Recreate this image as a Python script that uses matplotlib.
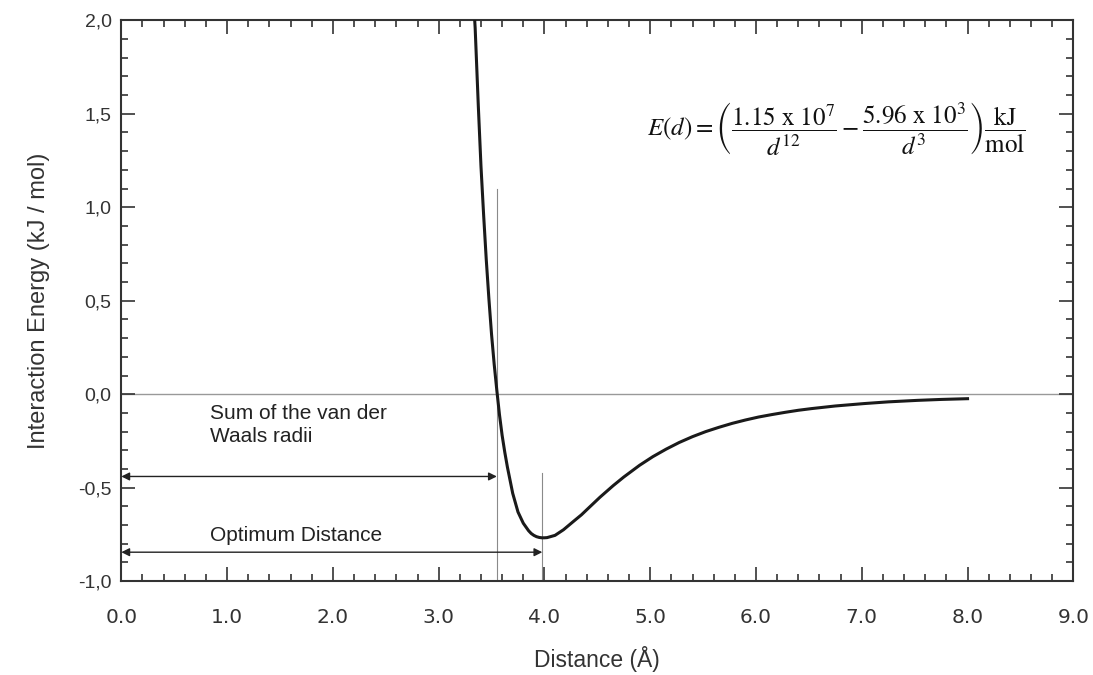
import matplotlib
matplotlib.use('Agg')
import matplotlib.pyplot as plt
from matplotlib.ticker import MultipleLocator, FuncFormatter

plt.rcParams['mathtext.fontset'] = 'stix'

# curve (distance in A, energy in kJ/mol)
distance = [3.33, 3.345, 3.375, 3.40, 3.425, 3.45, 3.475, 3.50, 3.525, 3.55,
            3.575, 3.60, 3.625, 3.65, 3.675, 3.70, 3.725, 3.75, 3.775, 3.80,
            3.825, 3.85, 3.875, 3.90, 3.925, 3.95, 3.975, 4.00, 4.025, 4.10,
            4.18, 4.275, 4.35, 4.40, 4.525, 4.65, 4.75, 4.90, 5.025, 5.15,
            5.275, 5.40, 5.525, 5.65, 5.775, 5.90, 6.025, 6.15, 6.275, 6.40,
            6.525, 6.75, 7.025, 7.25, 7.525, 7.75, 8.0]
energy = [2.10, 1.96, 1.54, 1.22, 0.96, 0.72, 0.51, 0.32, 0.16, 0.02,
          -0.11, -0.22, -0.31, -0.39, -0.46, -0.53, -0.58, -0.63, -0.66, -0.69,
          -0.71, -0.73, -0.745, -0.755, -0.762, -0.766, -0.768, -0.768, -0.767, -0.755,
          -0.725, -0.68, -0.645, -0.618, -0.551, -0.489, -0.443, -0.380, -0.334, -0.294,
          -0.258, -0.227, -0.200, -0.177, -0.156, -0.138, -0.122, -0.109, -0.097, -0.086,
          -0.077, -0.063, -0.050, -0.041, -0.033, -0.028, -0.024]

vdw_sum = 3.55
optimum = 3.98

fig = plt.figure(figsize=(10.93, 6.75), dpi=100)
ax = fig.add_axes([0.111, 0.139, 0.871, 0.831])

ax.axhline(0, color='#999999', lw=1.0, zorder=1)
ax.plot([vdw_sum, vdw_sum], [-1.0, 1.1], color='#8a8a8a', lw=0.8, zorder=1)
ax.plot([optimum, optimum], [-1.0, -0.42], color='#8a8a8a', lw=0.8, zorder=1)
ax.plot(distance, energy, color='#1a1a1a', lw=2.2, zorder=3, clip_on=True,
        solid_joinstyle='round')

arr = dict(arrowstyle='<|-|>', color='#222222', lw=1.0, mutation_scale=12,
           shrinkA=0, shrinkB=0)
ax.annotate('', xy=(0, -0.44), xytext=(vdw_sum, -0.44), arrowprops=arr)
ax.annotate('', xy=(0, -0.845), xytext=(optimum, -0.845), arrowprops=arr)

ax.text(0.84, -0.165, 'Sum of the van der\nWaals radii', family='Liberation Sans',
        fontsize=15, color='#222222', va='center', ha='left', linespacing=1.25)
ax.text(0.84, -0.755, 'Optimum Distance', family='Liberation Sans',
        fontsize=15, color='#222222', va='center', ha='left')

eq = (r'$E(d) = \left(\dfrac{1.15\ \mathrm{x}\ 10^{7}}{d^{12}}'
      r' - \dfrac{5.96\ \mathrm{x}\ 10^{3}}{d^{3}}\right)\dfrac{\mathrm{kJ}}{\mathrm{mol}}$')
ax.text(4.97, 1.42, eq, fontsize=18, color='#111111', va='center', ha='left')

ax.set_xlim(0, 9)
ax.set_ylim(-1, 2)
ax.xaxis.set_major_locator(MultipleLocator(1))
ax.xaxis.set_minor_locator(MultipleLocator(0.2))
ax.yaxis.set_major_locator(MultipleLocator(0.5))
ax.yaxis.set_minor_locator(MultipleLocator(0.1))
ax.xaxis.set_major_formatter(FuncFormatter(lambda v, p: '%.1f' % v))
ax.yaxis.set_major_formatter(FuncFormatter(lambda v, p: ('%.1f' % v).replace('.', ',')))

ax.tick_params(which='both', direction='in', top=True, right=True, color='#333333', width=1.2)
ax.tick_params(which='major', length=10)
ax.tick_params(which='minor', length=5)
ax.tick_params(axis='x', pad=19, labelsize=14.5, labelcolor='#333333')
ax.tick_params(axis='y', pad=7, labelsize=14, labelcolor='#333333')
for lab in ax.get_xticklabels():
    lab.set_family('DejaVu Sans')
for lab in ax.get_yticklabels():
    lab.set_family('Liberation Sans')

for s in ax.spines.values():
    s.set_color('#333333')
    s.set_linewidth(1.5)

ax.set_xlabel('Distance (Å)', family='Liberation Sans', fontsize=16.5, color='#333333', labelpad=14)
ax.set_ylabel('Interaction Energy (kJ / mol)', family='Liberation Sans', fontsize=17,
              color='#333333', labelpad=20)

fig.savefig('out.png', dpi=100)
